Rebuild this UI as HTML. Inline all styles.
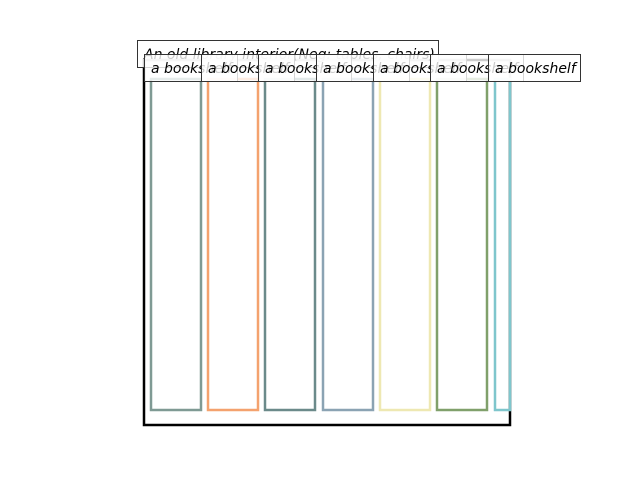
<!DOCTYPE html>
<html><head><meta charset="utf-8"><style>
body{margin:0;background:#fff;width:640px;height:480px;overflow:hidden;position:relative;font-family:"DejaVu Sans","Liberation Sans",sans-serif}
.l{position:absolute;height:28px;line-height:28px;border:1px solid #333;background:rgba(255,255,255,0.8);font-style:italic;font-size:14px;padding:0 6px;white-space:nowrap;box-sizing:border-box;color:#000}
</style></head><body>
<svg width="640" height="480" style="position:absolute;left:0;top:0">
<rect x="144" y="60" width="366" height="365" fill="none" stroke="#000" stroke-width="2.5"/>
<g fill="none" stroke-width="2.5">
<rect x="151" y="79" width="50" height="331" stroke="#7f9a94"/>
<rect x="208" y="79" width="50" height="331" stroke="#f4a26e"/>
<rect x="265" y="79" width="50" height="331" stroke="#6b8a8a"/>
<rect x="323" y="79" width="50" height="331" stroke="#8ba3b3"/>
<rect x="380" y="79" width="50" height="331" stroke="#eee8b2"/>
<rect x="437" y="79" width="50" height="331" stroke="#80a06b"/>
<rect x="495" y="79" width="15" height="331" stroke="#7fc6cc"/>
</g>
</svg>
<div class="l" style="left:137px;top:40px;width:302px">An old library interior(Neg: tables, chairs)</div>
<div class="l" style="left:144px;top:54px;width:94px">a bookshelf</div>
<div class="l" style="left:201px;top:54px;width:94px">a bookshelf</div>
<div class="l" style="left:258px;top:54px;width:94px">a bookshelf</div>
<div class="l" style="left:316px;top:54px;width:94px">a bookshelf</div>
<div class="l" style="left:373px;top:54px;width:94px">a bookshelf</div>
<div class="l" style="left:430px;top:54px;width:94px">a bookshelf</div>
<div class="l" style="left:488px;top:54px;width:93px">a bookshelf</div>
</body></html>
